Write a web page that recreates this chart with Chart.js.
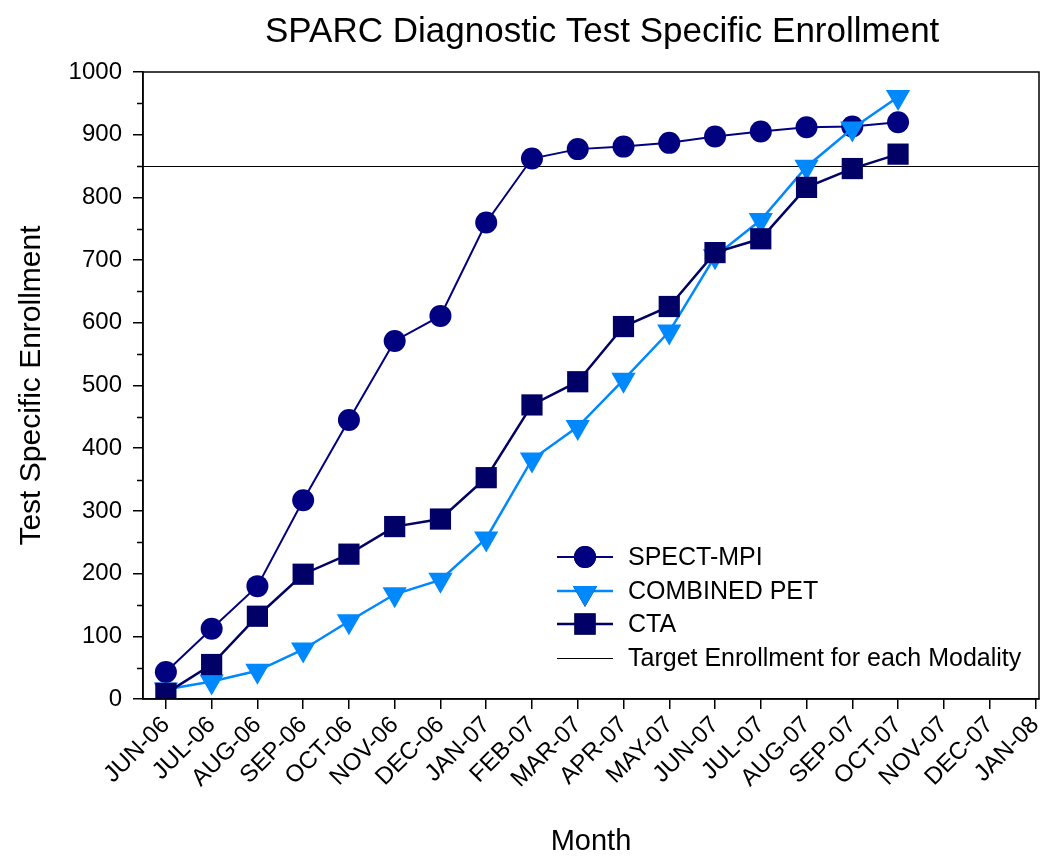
<!DOCTYPE html>
<html>
<head>
<meta charset="utf-8">
<script src="https://cdn.jsdelivr.net/npm/chart.js@4/dist/chart.umd.min.js"></script>
<style>
html,body{margin:0;padding:0;background:#fff;}
#wrap{width:1042px;height:856px;position:relative;}
</style>
</head>
<body>
<div id="wrap"><canvas id="c" width="1042" height="856"></canvas></div>
<script>
const MONTHS = ["JUN-06","JUL-06","AUG-06","SEP-06","OCT-06","NOV-06","DEC-06","JAN-07","FEB-07","MAR-07","APR-07","MAY-07","JUN-07","JUL-07","AUG-07","SEP-07","OCT-07","NOV-07","DEC-07","JAN-08"];
const SPECT_MPI = [43,112,180,317,445,571,611,760,862,877,881,887,897,905,912,913,920];
const COMBINED_PET = [15,28,45,79,124,167,190,256,382,434,509,586,706,764,849,910,960];
const CTA = [9,55,132,199,231,275,287,353,469,506,594,626,712,734,816,846,869];
const TARGET = 850;
const Y_TICKS = [0,100,200,300,400,500,600,700,800,900,1000];
const Y_MINOR = [50,150,250,350,450,550,650,750,850,950];

const FONT = "'Liberation Sans', Arial, sans-serif";
const toXY = arr => arr.map((v, i) => ({x: i, y: v}));

const C_SPECT = '#000080';
const C_PET = '#0088FF';
const C_CTA = '#000066';

const decor = {
  id: 'decor',
  beforeDatasetsDraw(chart) {
    const {ctx, chartArea: a, scales: {y}} = chart;
    ctx.save();
    const ty = Math.round(y.getPixelForValue(TARGET)) + 0.5;
    ctx.strokeStyle = '#000';
    ctx.lineWidth = 1.2;
    ctx.beginPath();
    ctx.moveTo(a.left, ty);
    ctx.lineTo(a.right, ty);
    ctx.stroke();
    ctx.restore();
  },
  afterDraw(chart) {
    const {ctx, chartArea: a, scales: {y}} = chart;
    ctx.save();
    ctx.strokeStyle = '#000';
    ctx.lineWidth = 1.5;
    ctx.strokeRect(a.left, a.top, a.right - a.left, a.bottom - a.top);
    Y_MINOR.forEach(v => {
      const py = Math.round(y.getPixelForValue(v)) + 0.5;
      ctx.beginPath();
      ctx.moveTo(a.left - 6, py);
      ctx.lineTo(a.left, py);
      ctx.stroke();
    });
    ctx.fillStyle = '#000';
    ctx.font = `35px ${FONT}`;
    ctx.textAlign = 'left';
    ctx.textBaseline = 'alphabetic';
    ctx.fillText('SPARC Diagnostic Test Specific Enrollment', 265, 42);
    const items = [
      {label: 'SPECT-MPI', ds: 0},
      {label: 'COMBINED PET', ds: 1},
      {label: 'CTA', ds: 2},
      {label: 'Target Enrollment for each Modality', ds: -1}
    ];
    const lx1 = 557, lx2 = 613, mx = 585, tx = 628;
    const rows = [557, 591, 624, 658];
    ctx.font = `25px ${FONT}`;
    ctx.textBaseline = 'middle';
    items.forEach((it, i) => {
      const ry = rows[i];
      if (it.ds >= 0) {
        const d = chart.data.datasets[it.ds];
        ctx.strokeStyle = d.borderColor;
        ctx.lineWidth = d.borderWidth;
        ctx.beginPath(); ctx.moveTo(lx1, ry); ctx.lineTo(lx2, ry); ctx.stroke();
        Chart.helpers.drawPoint(ctx, {
          pointStyle: d.pointStyle, radius: d.pointRadius, rotation: d.pointRotation || 0,
          borderWidth: 0
        }, mx, ry + (d.pointStyle === 'triangle' ? 2 : 0));
        ctx.fillStyle = d.pointBackgroundColor;
        ctx.fill();
      } else {
        ctx.strokeStyle = '#000';
        ctx.lineWidth = 1;
        ctx.beginPath(); ctx.moveTo(lx1, ry + 0.5); ctx.lineTo(lx2, ry + 0.5); ctx.stroke();
      }
      ctx.fillStyle = '#000';
      ctx.fillText(it.label, tx, ry + 1);
    });
    ctx.restore();
  }
};

new Chart(document.getElementById('c'), {
  type: 'line',
  data: {
    datasets: [
      {label: 'SPECT-MPI', data: toXY(SPECT_MPI), borderColor: C_SPECT, backgroundColor: C_SPECT,
       pointBackgroundColor: C_SPECT, pointBorderColor: C_SPECT, pointBorderWidth: 0,
       borderWidth: 2, pointStyle: 'circle', pointRadius: 11, order: 2},
      {label: 'COMBINED PET', data: toXY(COMBINED_PET), borderColor: C_PET, backgroundColor: C_PET,
       pointBackgroundColor: C_PET, pointBorderColor: C_PET, pointBorderWidth: 0,
       borderWidth: 2.5, pointStyle: 'triangle', pointRotation: 180, pointRadius: 14, order: 1},
      {label: 'CTA', data: toXY(CTA), borderColor: C_CTA, backgroundColor: C_CTA,
       pointBackgroundColor: C_CTA, pointBorderColor: C_CTA, pointBorderWidth: 0,
       borderWidth: 2.5, pointStyle: 'rect', pointRadius: 15, order: 0}
    ]
  },
  options: {
    responsive: false,
    animation: false,
    devicePixelRatio: 1,
    layout: {autoPadding: false, padding: {top: 72, right: 3, left: 0, bottom: 0}},
    plugins: {legend: {display: false}, tooltip: {enabled: false}, title: {display: false}},
    elements: {line: {tension: 0}, point: {hoverRadius: 11}},
    scales: {
      x: {
        type: 'linear', min: -0.5, max: 19.08,
        afterBuildTicks: s => { s.ticks = MONTHS.map((_, i) => ({value: i})); },
        afterFit: s => { s.height = 157; s.paddingLeft = 0; s.paddingRight = 0; },
        ticks: {
          callback: v => MONTHS[v] ?? '',
          maxRotation: 45, minRotation: 45, autoSkip: false,
          color: '#000', font: {family: FONT, size: 24}, padding: 2
        },
        grid: {drawOnChartArea: false, tickLength: 10, color: '#000', lineWidth: 1.5},
        border: {color: '#000', width: 1.5},
        title: {display: true, text: 'Month', color: '#000', font: {family: FONT, size: 29, lineHeight: 1}, padding: {top: 0, bottom: 0}}
      },
      y: {
        min: 0, max: 1000,
        afterBuildTicks: s => { s.ticks = Y_TICKS.map(v => ({value: v})); },
        afterFit: s => { s.width = 143; s.paddingTop = 0; s.paddingBottom = 0; },
        ticks: {color: '#000', font: {family: FONT, size: 24}, padding: 11, callback: v => String(v)},
        grid: {drawOnChartArea: false, tickLength: 10, color: '#000', lineWidth: 1.5},
        border: {color: '#000', width: 1.5},
        title: {display: true, text: 'Test Specific Enrollment', color: '#000', font: {family: FONT, size: 30, lineHeight: 1}, padding: {top: 17, bottom: 0}}
      }
    }
  },
  plugins: [decor]
});
</script>
</body>
</html>
